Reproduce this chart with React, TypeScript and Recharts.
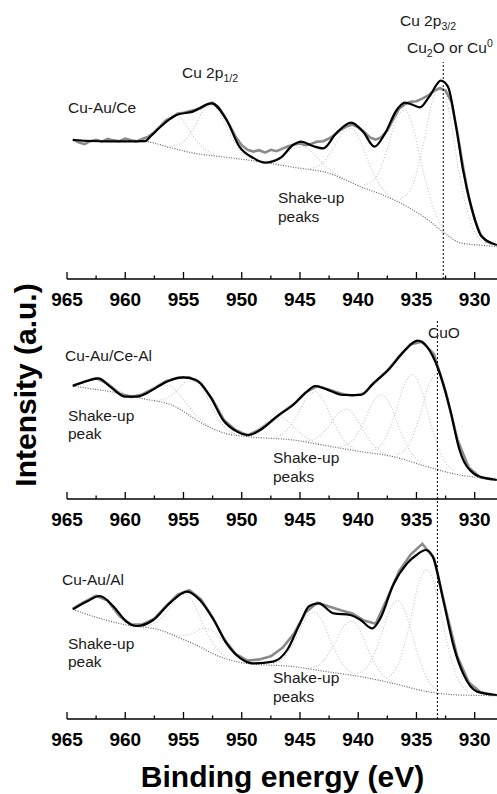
import { ComposedChart, Line, XAxis, YAxis, ReferenceLine } from "recharts";

// Cu 2p XPS spectra, binding energy (eV) vs intensity (a.u.)
type Pt = [number, number];

const ENERGY_TICKS = [965, 962.5, 960, 957.5, 955, 952.5, 950, 947.5, 945, 942.5, 940, 937.5, 935, 932.5, 930];

// ---- Cu-Au/Ce ----
const ceExp: Pt[] = [
  [964.5, 69.8], [964, 68.4], [963.5, 67.4], [963, 68.9], [962.5, 69.6], [962, 68.7], [961.5, 70.1], [961, 69.3],
  [960.5, 68.9], [960, 70.2], [959.5, 69.4], [959, 68.8], [958.5, 70.1], [958, 71.2], [957.5, 73.4], [957, 76.2],
  [956.5, 79.3], [956, 80.6], [955.5, 82.8], [955, 83.1], [954.5, 83.9], [954, 84.6], [953.5, 85.4], [953, 87.3],
  [952.5, 88.2], [952, 86.1], [951.5, 81.7], [951, 76.4], [950.5, 70.8], [950, 66.9], [949.5, 64.6], [949, 63.7],
  [948.5, 64.4], [948, 63.2], [947.5, 64.6], [947, 63.9], [946.5, 65.2], [946, 66.4], [945.5, 67.3], [945, 67.8],
  [944.5, 66.9], [944, 67.6], [943.5, 68.7], [943, 68.9], [942.5, 70.3], [942, 72.1], [941.5, 74.6], [941, 76.3],
  [940.5, 77.2], [940, 75.8], [939.5, 73.6], [939, 70.8], [938.5, 69.7], [938, 70.9], [937.5, 74.2], [937, 79.8],
  [936.5, 85.1], [936, 87.3], [935.5, 88.6], [935, 88.9], [934.5, 90.2], [934, 91.8], [933.5, 94.1], [933, 95.4],
  [932.5, 94.2], [932, 88.6], [931.5, 73.8], [931, 56.2], [930.5, 40.4], [930, 29.8], [929.5, 22.3], [929, 18.8],
  [928.5, 17.6],
];
const ceFit: Pt[] = [
  [964.5, 69.5], [963, 69.0], [961.5, 68.8], [960, 68.8], [958.3, 68.9], [957.8, 71.5], [957.0, 76], [955.6, 82],
  [954.2, 83.7], [952.6, 87.8], [951.3, 79.5], [950.2, 66.2], [949.0, 60.5], [948.0, 58.2], [946.7, 60.5],
  [945.6, 67], [944.9, 68.7], [943.9, 66.5], [943.0, 65.3], [941.9, 72.8], [940.6, 78.2], [939.6, 73.7],
  [938.6, 66.2], [937.7, 72.8], [936.7, 84.5], [936.0, 88.2], [935.3, 87.0], [934.7, 85.8], [933.9, 91.2],
  [932.9, 99.2], [932.3, 96.2], [931.6, 76.2], [931.0, 54.5], [930.3, 36.2], [929.4, 21.2], [928.1, 17],
];
const ceBg: Pt[] = [
  [964.5, 69.5], [961, 69.0], [958.3, 68.7], [956.2, 65.8], [954.2, 63], [951.5, 61], [948.5, 58.7],
  [945.5, 55.8], [942.6, 53], [939.8, 46.2], [936.9, 39.5], [934.0, 29.5], [932.6, 23], [931.2, 18],
  [929.5, 16.9], [928.1, 16.2],
];
const cePeaks: Pt[][] = [
  [[959.2, 69.5], [958.2, 71.3], [957.2, 75.9], [956.45, 80.7], [955.7, 82.1], [954.95, 78.6], [954.2, 71.7], [953.2, 65.0], [952.2, 62.0]],
  [[956.1, 66.5], [955.1, 68.2], [954.1, 75.7], [953.35, 83.7], [952.6, 86.8], [951.85, 82.6], [951.1, 73.5], [950.1, 64.0], [949.1, 60.0]],
  [[948.3, 58.8], [947.3, 59.3], [946.3, 62.2], [945.55, 65.3], [944.8, 66.2], [944.05, 63.9], [943.3, 59.3], [942.3, 54.1], [941.3, 50.2]],
  [[944.1, 55.3], [943.1, 57.7], [942.1, 65.6], [941.35, 73.0], [940.6, 75.2], [939.85, 69.2], [939.1, 58.4], [938.1, 46.6], [937.1, 40.8]],
  [[939.5, 46.9], [938.5, 50.7], [937.5, 65.1], [936.75, 79.7], [936.0, 84.4], [935.25, 74.8], [934.5, 55.7], [933.5, 34.9], [932.5, 24.0]],
  [[936.4, 39.9], [935.4, 45.8], [934.4, 67.6], [933.65, 89.0], [932.9, 96.4], [932.15, 82.6], [931.4, 55.3], [930.4, 29.0], [929.4, 19.2]],
];

// ---- Cu-Au/Ce-Al ----
const ceAlExp: Pt[] = [
  [964.5, 56.8], [963.5, 58.6], [962.5, 60.4], [961.5, 57.6], [960.5, 52.8], [959.5, 50.9], [958.5, 52.4],
  [957.5, 55.4], [956.5, 58.9], [955.5, 60.6], [954.5, 60.9], [953.5, 57.8], [952.5, 49.6], [951.5, 39.2],
  [950.5, 34.4], [949.5, 31.8], [948.5, 34.6], [947.5, 38.6], [946.5, 43.4], [945.5, 47.6], [944.5, 53.4],
  [943.5, 56.4], [942.5, 54.6], [941.5, 52.8], [940.5, 51.6], [939.5, 52.8], [938.5, 58.9], [937.5, 64.2],
  [936.5, 71.2], [935.5, 77.4], [934.5, 78.6], [933.5, 72.4], [932.5, 53.8], [931.5, 29.8], [930.5, 15.6],
  [929.5, 10.8], [928.5, 9.9],
];
const ceAlFit: Pt[] = [
  [964.5, 56.5], [963.3, 59], [962.3, 60.3], [961.3, 56.2], [960.0, 51.2], [959.0, 51.2], [958.2, 52.8],
  [957.3, 55.8], [956.4, 58.7], [955.0, 60.8], [953.9, 59.5], [952.7, 51.2], [951.6, 39.5], [950.4, 33.7],
  [949.4, 32], [948.4, 34.5], [947.0, 41.2], [945.6, 47], [944.4, 53.7], [943.7, 56.5], [942.7, 54.8],
  [941.3, 52], [939.8, 52], [938.7, 57.8], [937.3, 65.3], [936.1, 73.7], [934.9, 79.2], [934.1, 76.2],
  [933.1, 64.5], [932.1, 44.5], [931.3, 24.5], [930.1, 12.8], [929.0, 10.3], [928.1, 9.5],
];
const ceAlBg: Pt[] = [
  [964.5, 56.5], [963, 55.2], [961.3, 53.7], [958.6, 50.3], [955.7, 46.2], [954.5, 41.8], [953.4, 37.8],
  [951.4, 32.8], [949.6, 31.2], [945.6, 29.5], [942.5, 26.4], [939.8, 23.7], [937, 21.2], [934.1, 16.2],
  [931.3, 12], [928.1, 10.3],
];
const ceAlPeaks: Pt[][] = [
  [[964.5, 57.2], [963.5, 58.5], [962.9, 59.8], [962.3, 60.1], [961.7, 58.8], [961.1, 56.2], [960.3, 53.3], [959.5, 51.6]],
  [[959.8, 52.1], [958.8, 52.2], [957.8, 54.3], [957.05, 56.8], [956.3, 56.9], [955.55, 53.5], [954.8, 48.1], [953.8, 40.9], [952.8, 36.5]],
  [[957.5, 49.2], [956.5, 50.3], [955.5, 54.6], [954.75, 58.8], [954.0, 59.0], [953.25, 53.7], [952.5, 45.2], [951.5, 36.1], [950.5, 32.6]],
  [[950.3, 32.1], [949.3, 32.9], [948.3, 36.3], [947.55, 39.7], [946.8, 41.0], [946.05, 39.0], [945.3, 34.8], [944.3, 30.0], [943.3, 27.5]],
  [[947.2, 31.0], [946.2, 34.0], [945.2, 42.4], [944.45, 50.5], [943.7, 53.6], [942.95, 49.0], [942.2, 39.4], [941.2, 29.3], [940.2, 24.9]],
  [[944.5, 29.0], [943.5, 30.6], [942.5, 36.6], [941.75, 42.6], [941.0, 44.9], [940.25, 41.1], [939.5, 33.6], [938.5, 25.8], [937.5, 22.3]],
  [[941.5, 26.3], [940.5, 29.2], [939.5, 38.7], [938.75, 48.3], [938.0, 52.1], [937.25, 46.9], [936.5, 35.7], [935.5, 23.5], [934.5, 17.8]],
  [[938.8, 24.1], [937.8, 28.9], [936.8, 43.3], [936.05, 57.0], [935.3, 62.3], [934.55, 54.4], [933.8, 38.2], [932.8, 21.3], [931.8, 14.1]],
  [[936.7, 22.1], [935.7, 26.7], [934.7, 41.8], [933.95, 56.7], [933.2, 62.8], [932.45, 54.5], [931.7, 36.8], [930.7, 19.2], [929.7, 12.3]],
];

// ---- Cu-Au/Al ----
const alExp: Pt[] = [
  [964.5, 55.2], [963.5, 58.6], [962.5, 61.6], [961.5, 59.2], [960.5, 51.6], [959.5, 47.2], [958.5, 47.4],
  [957.5, 50.2], [956.5, 56.4], [955.5, 62.2], [954.5, 64.4], [953.5, 59.8], [952.5, 50.8], [951.5, 39.8],
  [950.5, 32.4], [949.5, 29.2], [948.5, 29.8], [947.5, 31.4], [946.5, 35.6], [945.5, 42.8], [944.5, 53.4],
  [943.5, 58.2], [942.5, 56.2], [941.5, 54.4], [940.5, 52.8], [939.5, 49.2], [938.5, 47.6], [937.5, 60.4],
  [936.5, 73.8], [935.5, 82.2], [934.5, 87.6], [933.5, 80.4], [932.5, 55.2], [931.5, 31.4], [930.5, 18.2],
  [929.5, 13.4], [928.5, 12.2],
];
const alFit: Pt[] = [
  [964.5, 54.8], [963.3, 58.7], [962.2, 61.5], [961.0, 56.2], [959.9, 48.7], [959.0, 46.5], [957.6, 49.5],
  [956.2, 57.8], [954.7, 63.7], [953.6, 59.5], [952.4, 49.5], [951.3, 37.8], [950.1, 30.3], [949.0, 27.8],
  [947.3, 28.7], [946.1, 34.5], [945.0, 47.8], [944.2, 56.5], [943.4, 57.8], [942.1, 52.8], [940.7, 52],
  [939.8, 49.5], [938.8, 45.3], [938.1, 50.3], [937.0, 67], [935.8, 77.8], [935.0, 82], [934.2, 84.5],
  [933.6, 81.2], [932.7, 59.5], [931.8, 36.2], [931.0, 22.8], [929.8, 13.7], [928.1, 12],
];
const alBg: Pt[] = [
  [964.5, 54.8], [962.7, 51.2], [959.9, 47], [957, 44.5], [955.5, 40.9], [954.2, 37.8], [951.9, 31.2],
  [949.6, 27.8], [945.6, 26.2], [942.5, 23.5], [939.8, 21.2], [937, 17.8], [934.1, 13.7], [931.3, 12], [928.1, 11.7],
];
const alPeaks: Pt[][] = [
  [[964.5, 55.8], [963.7, 57.2], [963.0, 60.1], [962.6, 61.2], [962.2, 61.2], [961.6, 58.6], [961.0, 54.2], [960.2, 49.1], [959.4, 46.7]],
  [[958.3, 46.3], [957.3, 48.5], [956.3, 54.5], [955.55, 60.6], [954.8, 62.2], [954.05, 57.0], [953.3, 46.9], [952.3, 36.3], [951.3, 31.0]],
  [[956.1, 42.6], [955.1, 41.7], [954.1, 43.1], [953.35, 45.3], [952.6, 44.5], [951.85, 40.5], [951.1, 35.6], [950.1, 30.3], [949.1, 28.0]],
  [[947.3, 27.8], [946.3, 31.1], [945.3, 40.8], [944.55, 50.0], [943.8, 53.6], [943.05, 48.6], [942.3, 38.1], [941.3, 27.1], [940.3, 22.5]],
  [[944.1, 25.7], [943.1, 28.3], [942.1, 37.0], [941.35, 45.5], [940.6, 48.9], [939.85, 44.2], [939.1, 34.1], [938.1, 23.4], [937.1, 18.7]],
  [[940.1, 22.8], [939.1, 27.0], [938.1, 40.5], [937.35, 53.9], [936.6, 59.2], [935.85, 51.9], [935.1, 36.5], [934.1, 20.4], [933.1, 14.4]],
  [[937.6, 20.3], [936.6, 27.0], [935.6, 46.9], [934.85, 66.7], [934.1, 74.7], [933.35, 65.1], [932.6, 43.9], [931.6, 22.0], [930.6, 13.7]],
];

const FONT = "'Liberation Sans', Arial, Helvetica, sans-serif";
const rows = (pts: Pt[]) => pts.map(([e, v]) => ({ e, v }));

const PLOT_H = 220;
const AXIS_H = 40;

function EnergyTick(props: any) {
  const { x, y, payload } = props;
  const major = payload.value % 5 === 0;
  return (
    <g>
      <line x1={x} x2={x} y1={y} y2={y - (major ? 7 : 3.5)} stroke="#000" strokeWidth={1.3} />
      {major && (
        <text x={x} y={y + 27} textAnchor="middle" fontFamily={FONT} fontWeight="bold" fontSize={19} fill="#000">
          {payload.value}
        </text>
      )}
    </g>
  );
}

type Marker = { at: number; from: number; to: number };

function Panel({ top, exp, fit, bg, peaks, marker }: { top: number; exp: Pt[]; fit: Pt[]; bg: Pt[]; peaks: Pt[][]; marker: Marker }) {
  return (
    <div style={{ position: "absolute", left: 0, top }}>
      <ComposedChart width={500} height={PLOT_H + AXIS_H} margin={{ top: 0, right: 2, bottom: 0, left: 67 }}>
        <XAxis
          type="number"
          dataKey="e"
          domain={[928, 965]}
          reversed
          allowDataOverflow
          ticks={ENERGY_TICKS}
          interval={0}
          height={AXIS_H}
          tickLine={false}
          tickSize={0}
          tickMargin={0}
          axisLine={{ stroke: "#000", strokeWidth: 1.5 }}
          tick={(p: any) => <EnergyTick {...p} />}
        />
        <YAxis type="number" domain={[0, 110]} allowDataOverflow hide />
        {peaks.map((pk, i) => (
          <Line
            key={i}
            data={rows(pk)}
            dataKey="v"
            type="monotone"
            stroke="#c4c4c4"
            strokeWidth={1.1}
            strokeDasharray="1 2"
            dot={false}
            activeDot={false}
            isAnimationActive={false}
          />
        ))}
        <Line data={rows(bg)} dataKey="v" type="monotone" stroke="#666" strokeWidth={1.2} strokeDasharray="1 1.5" dot={false} activeDot={false} isAnimationActive={false} />
        <Line data={rows(exp)} dataKey="v" type="linear" stroke="#8a8a8a" strokeWidth={2.6} dot={false} activeDot={false} isAnimationActive={false} />
        <Line data={rows(fit)} dataKey="v" type="monotone" stroke="#000" strokeWidth={2.2} dot={false} activeDot={false} isAnimationActive={false} />
        <ReferenceLine
          segment={[{ x: marker.at, y: marker.from }, { x: marker.at, y: marker.to }]}
          stroke="#000"
          strokeWidth={1}
          strokeDasharray="2 2"
        />
      </ComposedChart>
    </div>
  );
}

const small = { fontFamily: FONT, fontSize: 15.5, fill: "#1a1a1a" } as const;

function Annotations() {
  return (
    <svg width={497} height={794} style={{ position: "absolute", left: 0, top: 0, pointerEvents: "none" }}>
      {/* Cu-Au/Ce */}
      <text x={400} y={26} {...small}>
        Cu 2p<tspan fontSize={10.5} dy={4}>3/2</tspan>
      </text>
      <text x={407} y={53} {...small}>
        Cu<tspan fontSize={10.5} dy={4}>2</tspan>
        <tspan dy={-4}>O or Cu</tspan>
        <tspan fontSize={10.5} dy={-6}>0</tspan>
      </text>
      <text x={182} y={78} {...small}>
        Cu 2p<tspan fontSize={10.5} dy={4}>1/2</tspan>
      </text>
      <text x={68} y={113} {...small}>Cu-Au/Ce</text>
      <text x={278} y={203} {...small}>Shake-up</text>
      <text x={278} y={222} {...small}>peaks</text>

      {/* Cu-Au/Ce-Al */}
      <text x={428} y={338} {...small}>CuO</text>
      <text x={65} y={361} {...small}>Cu-Au/Ce-Al</text>
      <text x={68} y={421} {...small}>Shake-up</text>
      <text x={68} y={439} {...small}>peak</text>
      <text x={273} y={463} {...small}>Shake-up</text>
      <text x={273} y={482} {...small}>peaks</text>

      {/* Cu-Au/Al */}
      <text x={62} y={585} {...small}>Cu-Au/Al</text>
      <text x={68} y={649} {...small}>Shake-up</text>
      <text x={68} y={667} {...small}>peak</text>
      <text x={273} y={683} {...small}>Shake-up</text>
      <text x={273} y={702} {...small}>peaks</text>

      <text x={282.5} y={787} textAnchor="middle" fontFamily={FONT} fontWeight="bold" fontSize={30} fill="#000">
        Binding energy (eV)
      </text>
      <text transform="translate(35.5,385) rotate(-90)" textAnchor="middle" fontFamily={FONT} fontWeight="bold" fontSize={30} fill="#000">
        Intensity (a.u.)
      </text>
    </svg>
  );
}

export default function App() {
  return (
    <div style={{ position: "absolute", left: 0, top: 0, width: 497, height: 794, background: "#fff", overflow: "hidden" }}>
      <Panel top={279 - PLOT_H} exp={ceExp} fit={ceFit} bg={ceBg} peaks={cePeaks} marker={{ at: 932.7, from: 0, to: 108.5 }} />
      <Panel top={499 - PLOT_H} exp={ceAlExp} fit={ceAlFit} bg={ceAlBg} peaks={ceAlPeaks} marker={{ at: 933.2, from: 0, to: 89.5 }} />
      <Panel top={719 - PLOT_H} exp={alExp} fit={alFit} bg={alBg} peaks={alPeaks} marker={{ at: 933.2, from: 0, to: 110 }} />
      <Annotations />
    </div>
  );
}
